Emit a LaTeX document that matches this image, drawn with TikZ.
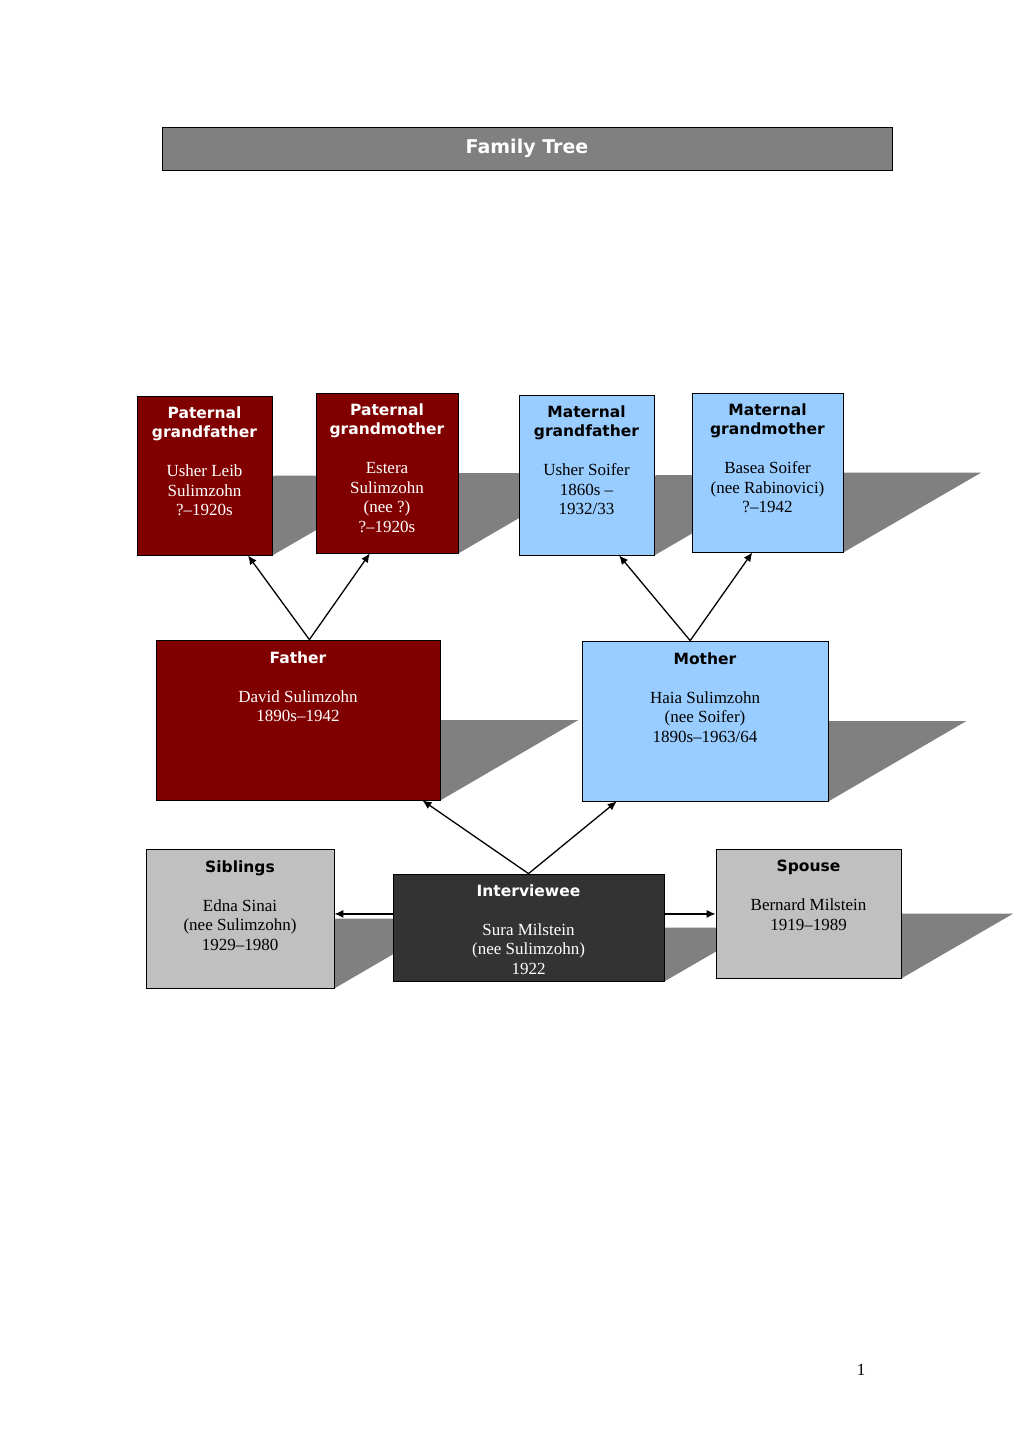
\documentclass[tikz,border=0pt]{standalone}
\usepackage{fontspec}
\setmainfont{Liberation Serif}
\newfontfamily\headfont{DejaVu Sans}
\usetikzlibrary{
	arrows.meta,
	positioning,
	calc,
	backgrounds
}
\definecolor{paternal}{RGB}{128,0,0}
\definecolor{maternal}{RGB}{153,204,255}
\definecolor{relative}{RGB}{192,192,192}
\definecolor{self}{RGB}{51,51,51}
\definecolor{shadowgray}{RGB}{128,128,128}
\newcommand{\hd}[1]{{\headfont\bfseries\fontsize{15.5}{19.5}\selectfont #1}}
\tikzset{
	person/.style={draw=black, line width=.8pt},
	who/.style={align=center, inner sep=0pt, font=\fontsize{17}{19.5}\selectfont},
	link/.style={line width=1.3pt, -{Latex[length=9pt,width=8pt]}},
	castshadow/.style={fill=shadowgray}
}
\begin{document}
\begin{tikzpicture}[x=1pt, y=-1pt]

		\useasboundingbox (0,0) rectangle (1020,1443);

		\node[person, fill=shadowgray, minimum width=730, minimum height=43, text=white, font=\headfont\bfseries\fontsize{19}{22}\selectfont] (title) at (527,148.5) {Family Tree};

		\node[person, fill=paternal, minimum width=135, minimum height=159] (PGF) at (204.5,475.5) {};
		\node[person, fill=paternal, minimum width=142, minimum height=160] (PGM) at (387,473) {};
		\node[person, fill=maternal, minimum width=135, minimum height=160] (MGF) at (586.5,475) {};
		\node[person, fill=maternal, minimum width=151, minimum height=159] (MGM) at (767.5,472.5) {};

		\node[person, fill=paternal, minimum width=284, minimum height=160] (F) at (298,720) {};
		\node[person, fill=maternal, minimum width=246, minimum height=160] (M) at (705,721) {};

		\node[person, fill=relative, minimum width=188, minimum height=139] (S) at (240,918.5) {};
		\node[person, fill=self, minimum width=271, minimum height=107] (I) at (528.5,927.5) {};
		\node[person, fill=relative, minimum width=185, minimum height=129] (Sp) at (808.5,913.5) {};

		\begin{scope}[on background layer]
			\foreach \n/\d in {PGF/138, PGM/138, MGF/138, MGM/138, F/138, M/138, S/120, I/93, Sp/112}
				\fill[castshadow] (\n.south west) -- (\n.south east) -- ($(\n.east)+(\d,0)$) -- ($(\n.west)+(\d,0)$) -- cycle;
		\end{scope}

		\node[who, text=white, below=10.5pt of PGF.north] (PGFt) {\hd{Paternal}\\\hd{grandfather}\\[19.5pt]Usher Leib\\Sulimzohn\\?--1920s};
		\node[who, text=white, below=10.5pt of PGM.north] (PGMt) {\hd{Paternal}\\\hd{grandmother}\\[19.5pt]Estera\\Sulimzohn\\(nee ?)\\?--1920s};
		\node[who, below=10.5pt of MGF.north] (MGFt) {\hd{Maternal}\\\hd{grandfather}\\[19.5pt]Usher Soifer\\1860s --\\1932/33};
		\node[who, below=10.5pt of MGM.north] (MGMt) {\hd{Maternal}\\\hd{grandmother}\\[19.5pt]Basea Soifer\\(nee Rabinovici)\\?--1942};

		\node[who, text=white, below=11.5pt of F.north] (Ft) {\hd{Father}\\[19.5pt]David Sulimzohn\\1890s--1942};
		\node[who, below=11.5pt of M.north] (Mt) {\hd{Mother}\\[19.5pt]Haia Sulimzohn\\(nee Soifer)\\1890s--1963/64};

		\node[who, below=11.5pt of S.north] (St) {\hd{Siblings}\\[19.5pt]Edna Sinai\\(nee Sulimzohn)\\1929--1980};
		\node[who, text=white, below=10.5pt of I.north] (It) {\hd{Interviewee}\\[19.5pt]Sura Milstein\\(nee Sulimzohn)\\1922};
		\node[who, below=11.5pt of Sp.north] (Spt) {\hd{Spouse}\\[19.5pt]Bernard Milstein\\1919--1989};

		\draw[link] ($(F.north west)!.54!(F.north east)$) -- ($(PGF.south west)!.82!(PGF.south east)$);
		\draw[link] ($(F.north west)!.54!(F.north east)$) -- ($(PGM.south west)!.38!(PGM.south east)$);
		\draw[link] ($(M.north west)!.44!(M.north east)$) -- ($(MGF.south west)!.74!(MGF.south east)$);
		\draw[link] ($(M.north west)!.44!(M.north east)$) -- ($(MGM.south west)!.40!(MGM.south east)$);

		\draw[link] (I.north) -- ($(F.south west)!.937!(F.south east)$);
		\draw[link] (I.north) -- ($(M.south west)!.142!(M.south east)$);

		\coordinate (Iw) at ($(I.north west)!.374!(I.south west)$);
		\coordinate (Ie) at ($(I.north east)!.374!(I.south east)$);
		\draw[link] (Iw) -- (Iw -| S.east);
		\draw[link] (Ie) -- (Ie -| Sp.west);

		\node[font=\fontsize{17}{20}\selectfont] (page) at (861,1370) {1};

	\end{tikzpicture}
\end{document}
